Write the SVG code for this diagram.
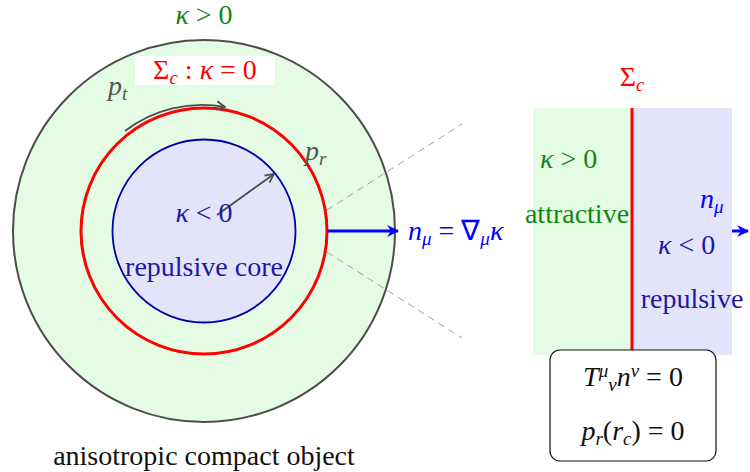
<svg xmlns="http://www.w3.org/2000/svg" width="750" height="472" viewBox="0 0 750 472" font-family="Liberation Serif">
<defs>
<marker id="ahBlue" viewBox="0 0 10 10" refX="9" refY="5" markerWidth="4" markerHeight="4" orient="auto" markerUnits="strokeWidth"><path d="M0,0 L10,5 L0,10 L3,5 Z" fill="#0000ff"/></marker>
<marker id="ahGray" viewBox="0 0 10 10" refX="9" refY="5" markerWidth="6" markerHeight="6" orient="auto" markerUnits="strokeWidth"><path d="M1,1 L9,5 L1,9" fill="none" stroke="#4d4d4d" stroke-width="1.6"/></marker>
</defs>
<rect width="750" height="472" fill="#ffffff"/>
<g id="object">
<circle cx="204" cy="231" r="191" fill="#e3fce3" stroke="#4d4d4d" stroke-width="2"/>
<circle cx="204" cy="231" r="123" fill="none" stroke="#ff0000" stroke-width="3"/>
<circle cx="204" cy="231" r="91.5" fill="#e3e3fb" stroke="#0000a6" stroke-width="1.8"/>
</g>
<g id="connectors">
<path d="M327,231 L398,231" stroke="#0000ff" stroke-width="3" marker-end="url(#ahBlue)"/>
<path d="M632,231 L748,231" stroke="#0000ff" stroke-width="3" marker-end="url(#ahBlue)"/>
<path d="M327,210 L462,124" stroke="#a0a0a0" stroke-width="1" stroke-dasharray="7,5" fill="none"/>
<path d="M327,252 L462,338" stroke="#a0a0a0" stroke-width="1" stroke-dasharray="7,5" fill="none"/>
<path d="M125,131 A127,127 0 0 1 225,107" fill="none" stroke="#4d4d4d" stroke-width="1.8" marker-end="url(#ahGray)"/>
<path d="M217,215 L274,174" fill="none" stroke="#4d4d4d" stroke-width="1.8" marker-end="url(#ahGray)"/>
</g>
<g id="labels-left">
<text x="204" y="24" style="font-family:'Liberation Serif'" font-size="28" text-anchor="middle" fill="#118811"><tspan font-style="italic">κ</tspan> &gt; 0</text>
<rect x="135" y="56" width="140" height="29" fill="#ffffff"/>
<text x="205" y="79" style="font-family:'Liberation Serif'" font-size="28" text-anchor="middle" fill="#ff0000">Σ<tspan font-style="italic" font-size="19" dy="5">c</tspan><tspan dy="-5"> :  </tspan><tspan font-style="italic">κ</tspan> = 0</text>
<text x="108" y="95" style="font-family:'Liberation Serif'" font-size="28" fill="#555555"><tspan font-style="italic">p</tspan><tspan font-style="italic" font-size="19" dy="5">t</tspan></text>
<text x="305" y="160" style="font-family:'Liberation Serif'" font-size="28" fill="#555555"><tspan font-style="italic">p</tspan><tspan font-style="italic" font-size="19" dy="5">r</tspan></text>
<text x="204" y="222" style="font-family:'Liberation Serif'" font-size="28" text-anchor="middle" fill="#1a1aa6"><tspan font-style="italic">κ</tspan> &lt; 0</text>
<text x="204" y="276" style="font-family:'Liberation Serif'" font-size="28" text-anchor="middle" fill="#1a1aa6">repulsive core</text>
<text x="204" y="465" style="font-family:'Liberation Serif'" font-size="28" text-anchor="middle" fill="#111111">anisotropic compact object</text>
<text x="408" y="240" style="font-family:'Liberation Serif'" font-size="28" fill="#0000ff"><tspan font-style="italic">n</tspan><tspan font-style="italic" font-size="19" dy="5">μ</tspan><tspan dy="-5"> = ∇</tspan><tspan font-style="italic" font-size="19" dy="5">μ</tspan><tspan font-style="italic" dy="-5">κ</tspan></text>
</g>
<g id="zoom-panel">
<rect x="533" y="108" width="99" height="247" fill="#e3fce3"/>
<rect x="632" y="108" width="100" height="247" fill="#e3e3fb"/>
<line x1="632" y1="108" x2="632" y2="355" stroke="#ff0000" stroke-width="3"/>
<text x="632" y="86" style="font-family:'Liberation Serif'" font-size="28" text-anchor="middle" fill="#ff0000">Σ<tspan font-style="italic" font-size="19" dy="5">c</tspan></text>
<text x="540" y="168" style="font-family:'Liberation Serif'" font-size="28" fill="#118811"><tspan font-style="italic">κ</tspan> &gt; 0</text>
<text x="577" y="223" style="font-family:'Liberation Serif'" font-size="28" text-anchor="middle" fill="#118811">attractive</text>
<text x="700" y="208" style="font-family:'Liberation Serif'" font-size="28" fill="#0000ff"><tspan font-style="italic">n</tspan><tspan font-style="italic" font-size="19" dy="5">μ</tspan></text>
<text x="658" y="254" style="font-family:'Liberation Serif'" font-size="28" fill="#1a1aa6"><tspan font-style="italic">κ</tspan> &lt; 0</text>
<text x="692" y="308" style="font-family:'Liberation Serif'" font-size="28" text-anchor="middle" fill="#1a1aa6">repulsive</text>
</g>
<g id="condition-box">
<rect x="550" y="350" width="166" height="111" rx="10" fill="#ffffff" stroke="#111111" stroke-width="1.2"/>
<text x="633" y="386" style="font-family:'Liberation Serif'" font-size="28" text-anchor="middle" fill="#111111"><tspan font-style="italic">T</tspan><tspan font-style="italic" font-size="19" dy="-9">μ</tspan><tspan font-style="italic" font-size="19" dy="14">ν</tspan><tspan font-style="italic" dy="-5">n</tspan><tspan font-style="italic" font-size="19" dy="-9">ν</tspan><tspan dy="9"> = 0</tspan></text>
<text x="633" y="440" style="font-family:'Liberation Serif'" font-size="28" text-anchor="middle" fill="#111111"><tspan font-style="italic">p</tspan><tspan font-style="italic" font-size="19" dy="5">r</tspan><tspan dy="-5">(</tspan><tspan font-style="italic">r</tspan><tspan font-style="italic" font-size="19" dy="5">c</tspan><tspan dy="-5">) = 0</tspan></text>
</g>
</svg>
